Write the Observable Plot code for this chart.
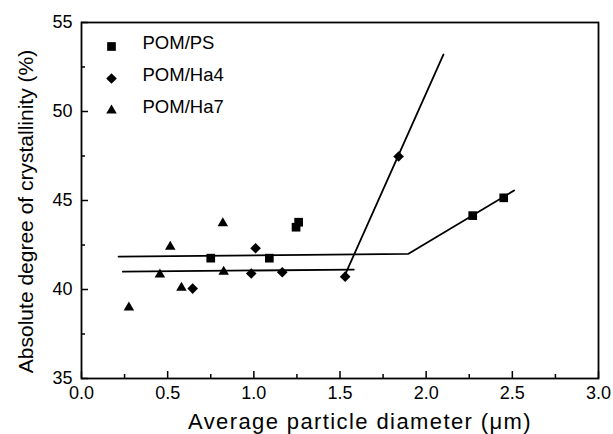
<!DOCTYPE html>
<html><head><meta charset="utf-8">
<script src="https://cdn.jsdelivr.net/npm/d3@7"></script>
<script src="https://cdn.jsdelivr.net/npm/@observablehq/plot@0.6"></script>
<style>
html,body{margin:0;padding:0;background:#fff;}
#chart svg{display:block;font-family:"Liberation Sans",Arial,Helvetica,sans-serif;}
</style></head><body><div id="chart"></div>
<script>
// ---- data ----
const seriesNames = ["POM/PS", "POM/Ha4", "POM/Ha7"];
const seriesSymbols = ["square", "diamond2", "triangle"];
const seriesRadius = [4.9, 4.8, 3.9];

const psX  = [0.75, 1.09, 1.245, 1.26, 2.27, 2.45];
const psY  = [41.76, 41.76, 43.5, 43.78, 44.15, 45.15];
const ha4X = [0.645, 0.985, 1.01, 1.165, 1.53, 1.84];
const ha4Y = [40.05, 40.9, 42.32, 40.97, 40.72, 47.47];
const ha7X = [0.275, 0.455, 0.515, 0.58, 0.825, 0.82];
const ha7Y = [38.99, 40.84, 42.4, 40.1, 41.0, 43.72];

// fitted guide lines
const fitUpperX = [0.215, 1.895, 2.51];
const fitUpperY = [41.85, 42.0, 45.56];
const fitLowerX = [0.24, 1.58];
const fitLowerY = [41.0, 41.12];
const fitSteepX = [1.535, 2.1];
const fitSteepY = [40.95, 53.2];

const xTicks = [0, 0.5, 1.0, 1.5, 2.0, 2.5, 3.0];
const xMinorTicks = [0.25, 0.75, 1.25, 1.75, 2.25, 2.75];
const yTicks = [35, 40, 45, 50, 55];
const yMinorTicks = [37.5, 42.5, 47.5, 52.5];

const xTitle = "Average particle diameter (μm)";
const yTitle = "Absolute degree of crystallinity (%)";

// ---- build tables ----
const seriesData = [[psX, psY], [ha4X, ha4Y], [ha7X, ha7Y]].map(([xs, ys], s) =>
  xs.map((x, i) => ({series: seriesNames[s], x, y: ys[i]})));
const toLine = (xs, ys) => xs.map((x, i) => ({x, y: ys[i]}));
const font = '"Liberation Sans",Arial,Helvetica,sans-serif';

const W = 613, H = 434, ML = 81, MR = 15, MT = 22, MB = 56;
const innerW = W - ML - MR, innerH = H - MT - MB;

const legendMarks = seriesNames.flatMap((name, i) => [
  Plot.dot([name], {frameAnchor: "top-left", dx: 30, dy: 24 + i * 32, symbol: d => d, r: seriesRadius[i], fill: "black", stroke: "none"}),
  Plot.text([name], {frameAnchor: "top-left", dx: 61, dy: 21 + i * 32, text: d => d, textAnchor: "start", lineAnchor: "middle", fontSize: 18.5, fill: "black"})
]);

const chart = Plot.plot({
  width: W,
  height: H,
  marginLeft: ML,
  marginRight: MR,
  marginTop: MT,
  marginBottom: MB,
  style: {fontFamily: font, background: "white", color: "black"},
  x: {domain: [0, 3]},
  y: {domain: [35, 55]},
  symbol: {domain: seriesNames, range: seriesSymbols},
  marks: [
    // inward ticks
    Plot.tickX(xTicks, {x: d => d, insetTop: innerH - 7, stroke: "black", strokeWidth: 1.5}),
    Plot.tickX(xMinorTicks, {x: d => d, insetTop: innerH - 4, stroke: "black", strokeWidth: 1.5}),
    Plot.tickY(yTicks, {y: d => d, insetRight: innerW - 7, stroke: "black", strokeWidth: 1.5}),
    Plot.tickY(yMinorTicks, {y: d => d, insetRight: innerW - 4, stroke: "black", strokeWidth: 1.5}),
    // tick labels
    Plot.axisX({ticks: xTicks, tickSize: 0, tickPadding: 8, tickFormat: d3.format(".1f"), label: null, fontSize: 18}),
    Plot.axisY({ticks: yTicks, tickSize: 0, tickPadding: 9, tickFormat: d3.format("d"), label: null, fontSize: 18}),
    Plot.frame({stroke: "black", strokeWidth: 1.8}),
    // fitted lines
    Plot.line(toLine(fitUpperX, fitUpperY), {x: "x", y: "y", stroke: "black", strokeWidth: 1.8}),
    Plot.line(toLine(fitLowerX, fitLowerY), {x: "x", y: "y", stroke: "black", strokeWidth: 1.8}),
    Plot.line(toLine(fitSteepX, fitSteepY), {x: "x", y: "y", stroke: "black", strokeWidth: 1.8}),
    // data points
    ...seriesData.map((pts, s) => Plot.dot(pts, {x: "x", y: "y", symbol: "series", r: seriesRadius[s], fill: "black", stroke: "none"})),
    ...legendMarks,
    // axis titles
    Plot.text([xTitle], {frameAnchor: "bottom", dx: 20, dy: 43, text: d => d, textAnchor: "middle", lineAnchor: "middle", fontSize: 22, fill: "black"}),
    Plot.text([yTitle], {frameAnchor: "left", dx: -55.5, dy: 11, rotate: -90, text: d => d, textAnchor: "middle", lineAnchor: "middle", fontSize: 21, fill: "black"})
  ]
});
// widen the x-axis title letter spacing as in the reference
d3.select(chart).selectAll("text").filter(function() { return this.textContent === xTitle; })
  .style("letter-spacing", "1.4px");
document.getElementById("chart").appendChild(chart);
</script>
</body></html>
